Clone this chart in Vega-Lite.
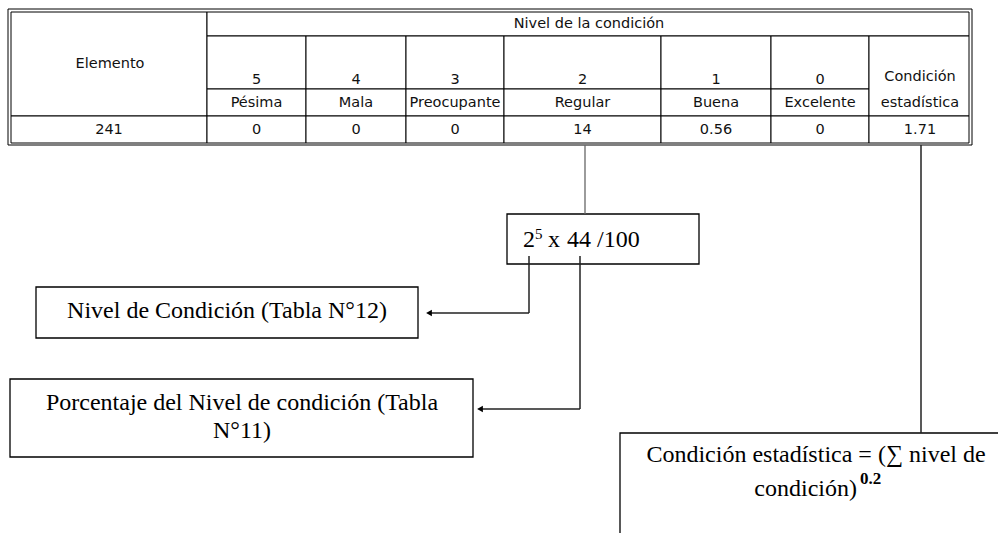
{
  "$schema": "https://vega.github.io/schema/vega-lite/v6.json",
  "width": 998,
  "height": 533,
  "autosize": {"type": "fit", "contains": "padding"},
  "padding": 0,
  "background": "white",
  "config": {"view": {"stroke": null}},
  "datasets": {
    "outer": [{"x": 8, "x2": 972, "y": 9, "y2": 145}],
    "cells": [
      {"x": 11, "x2": 207, "y": 12, "y2": 116},
      {"x": 207, "x2": 969, "y": 12, "y2": 36},
      {"x": 207, "x2": 306, "y": 36, "y2": 89},
      {"x": 306, "x2": 406, "y": 36, "y2": 89},
      {"x": 406, "x2": 504, "y": 36, "y2": 89},
      {"x": 504, "x2": 661, "y": 36, "y2": 89},
      {"x": 661, "x2": 771, "y": 36, "y2": 89},
      {"x": 771, "x2": 869, "y": 36, "y2": 89},
      {"x": 207, "x2": 306, "y": 89, "y2": 116},
      {"x": 306, "x2": 406, "y": 89, "y2": 116},
      {"x": 406, "x2": 504, "y": 89, "y2": 116},
      {"x": 504, "x2": 661, "y": 89, "y2": 116},
      {"x": 661, "x2": 771, "y": 89, "y2": 116},
      {"x": 771, "x2": 869, "y": 89, "y2": 116},
      {"x": 869, "x2": 969, "y": 36, "y2": 116},
      {"x": 11, "x2": 207, "y": 116, "y2": 143},
      {"x": 207, "x2": 306, "y": 116, "y2": 143},
      {"x": 306, "x2": 406, "y": 116, "y2": 143},
      {"x": 406, "x2": 504, "y": 116, "y2": 143},
      {"x": 504, "x2": 661, "y": 116, "y2": 143},
      {"x": 661, "x2": 771, "y": 116, "y2": 143},
      {"x": 771, "x2": 869, "y": 116, "y2": 143},
      {"x": 869, "x2": 969, "y": 116, "y2": 143}
    ],
    "boxes": [
      {"x": 507, "x2": 699, "y": 214, "y2": 264},
      {"x": 36, "x2": 418, "y": 287, "y2": 338},
      {"x": 10, "x2": 473, "y": 379, "y2": 457},
      {"x": 620, "x2": 1012, "y": 433, "y2": 590}
    ],
    "linksGray": [
      {"x": 585, "y": 145, "x2": 585, "y2": 214}
    ],
    "links": [
      {"x": 529, "y": 256, "x2": 529, "y2": 313},
      {"x": 529, "y": 313, "x2": 428, "y2": 313},
      {"x": 580, "y": 256, "x2": 580, "y2": 409},
      {"x": 580, "y": 409, "x2": 479, "y2": 409},
      {"x": 921, "y": 145, "x2": 921, "y2": 433}
    ],
    "arrows": [
      {"x": 429, "y": 313},
      {"x": 480, "y": 409}
    ],
    "tableText": [
      {"x": 110, "y": 64, "label": "Elemento"},
      {"x": 589, "y": 24, "label": "Nivel de la condición"},
      {"x": 256.5, "y": 80, "label": "5"},
      {"x": 356, "y": 80, "label": "4"},
      {"x": 455, "y": 80, "label": "3"},
      {"x": 582.5, "y": 80, "label": "2"},
      {"x": 716, "y": 80, "label": "1"},
      {"x": 820, "y": 80, "label": "0"},
      {"x": 920, "y": 77, "label": "Condición"},
      {"x": 256.5, "y": 103, "label": "Pésima"},
      {"x": 356, "y": 103, "label": "Mala"},
      {"x": 455, "y": 103, "label": "Preocupante"},
      {"x": 582.5, "y": 103, "label": "Regular"},
      {"x": 716, "y": 103, "label": "Buena"},
      {"x": 820, "y": 103, "label": "Excelente"},
      {"x": 920, "y": 103, "label": "estadística"},
      {"x": 109, "y": 130, "label": "241"},
      {"x": 256.5, "y": 130, "label": "0"},
      {"x": 356, "y": 130, "label": "0"},
      {"x": 455, "y": 130, "label": "0"},
      {"x": 582.5, "y": 130, "label": "14"},
      {"x": 716, "y": 130, "label": "0.56"},
      {"x": 820, "y": 130, "label": "0"},
      {"x": 920, "y": 130, "label": "1.71"}
    ],
    "serifCenter": [
      {"x": 227, "y": 318, "label": "Nivel de Condición (Tabla N°12)"},
      {"x": 242, "y": 410, "label": "Porcentaje del Nivel de condición (Tabla"},
      {"x": 242, "y": 438, "label": "N°11)"},
      {"x": 816, "y": 462, "label": "Condición estadística = (∑ nivel de"}
    ],
    "serifLeft": [
      {"x": 523, "y": 247, "label": "2"},
      {"x": 548, "y": 247, "label": "x"},
      {"x": 567, "y": 247, "label": "44 /100"}
    ],
    "serifRight": [
      {"x": 857, "y": 496, "label": "condición)"}
    ],
    "sup": [
      {"x": 535, "y": 239, "label": "5"}
    ],
    "supBold": [
      {"x": 860, "y": 484, "label": "0.2"}
    ]
  },
  "layer": [
    {
      "data": {"name": "outer"},
      "mark": {"type": "rect", "fill": null, "fillOpacity": 0, "stroke": "#000", "strokeWidth": 1},
      "encoding": {
        "x": {"field": "x", "type": "quantitative", "scale": {"domain": [0, 998], "nice": false, "zero": false}, "axis": null},
        "x2": {"field": "x2"},
        "y": {"field": "y", "type": "quantitative", "scale": {"domain": [0, 533], "reverse": true, "nice": false, "zero": false}, "axis": null},
        "y2": {"field": "y2"}
      }
    },
    {
      "data": {"name": "cells"},
      "mark": {"type": "rect", "fill": "white", "stroke": "#000", "strokeWidth": 1},
      "encoding": {
        "x": {"field": "x", "type": "quantitative", "axis": null},
        "x2": {"field": "x2"},
        "y": {"field": "y", "type": "quantitative", "axis": null},
        "y2": {"field": "y2"}
      }
    },
    {
      "data": {"name": "boxes"},
      "mark": {"type": "rect", "fill": "white", "stroke": "#000", "strokeWidth": 1.3, "clip": true},
      "encoding": {
        "x": {"field": "x", "type": "quantitative", "axis": null},
        "x2": {"field": "x2"},
        "y": {"field": "y", "type": "quantitative", "axis": null},
        "y2": {"field": "y2"}
      }
    },
    {
      "data": {"name": "linksGray"},
      "mark": {"type": "rule", "stroke": "#666", "strokeWidth": 1.3},
      "encoding": {
        "x": {"field": "x", "type": "quantitative", "axis": null},
        "x2": {"field": "x2"},
        "y": {"field": "y", "type": "quantitative", "axis": null},
        "y2": {"field": "y2"}
      }
    },
    {
      "data": {"name": "links"},
      "mark": {"type": "rule", "stroke": "#222", "strokeWidth": 1.5},
      "encoding": {
        "x": {"field": "x", "type": "quantitative", "axis": null},
        "x2": {"field": "x2"},
        "y": {"field": "y", "type": "quantitative", "axis": null},
        "y2": {"field": "y2"}
      }
    },
    {
      "data": {"name": "arrows"},
      "mark": {"type": "point", "shape": "triangle-left", "filled": true, "fill": "#000", "stroke": null, "size": 45, "opacity": 1},
      "encoding": {
        "x": {"field": "x", "type": "quantitative", "axis": null},
        "y": {"field": "y", "type": "quantitative", "axis": null}
      }
    },
    {
      "data": {"name": "tableText"},
      "mark": {"type": "text", "font": "DejaVu Sans", "fontSize": 14.5, "align": "center", "baseline": "middle", "color": "#111"},
      "encoding": {
        "x": {"field": "x", "type": "quantitative", "axis": null},
        "y": {"field": "y", "type": "quantitative", "axis": null},
        "text": {"field": "label"}
      }
    },
    {
      "data": {"name": "serifCenter"},
      "mark": {"type": "text", "font": "Liberation Serif", "fontSize": 24, "align": "center", "baseline": "alphabetic", "color": "#000"},
      "encoding": {
        "x": {"field": "x", "type": "quantitative", "axis": null},
        "y": {"field": "y", "type": "quantitative", "axis": null},
        "text": {"field": "label"}
      }
    },
    {
      "data": {"name": "serifLeft"},
      "mark": {"type": "text", "font": "Liberation Serif", "fontSize": 24, "align": "left", "baseline": "alphabetic", "color": "#000"},
      "encoding": {
        "x": {"field": "x", "type": "quantitative", "axis": null},
        "y": {"field": "y", "type": "quantitative", "axis": null},
        "text": {"field": "label"}
      }
    },
    {
      "data": {"name": "serifRight"},
      "mark": {"type": "text", "font": "Liberation Serif", "fontSize": 24, "align": "right", "baseline": "alphabetic", "color": "#000"},
      "encoding": {
        "x": {"field": "x", "type": "quantitative", "axis": null},
        "y": {"field": "y", "type": "quantitative", "axis": null},
        "text": {"field": "label"}
      }
    },
    {
      "data": {"name": "sup"},
      "mark": {"type": "text", "font": "Liberation Serif", "fontSize": 15, "align": "left", "baseline": "alphabetic", "color": "#000"},
      "encoding": {
        "x": {"field": "x", "type": "quantitative", "axis": null},
        "y": {"field": "y", "type": "quantitative", "axis": null},
        "text": {"field": "label"}
      }
    },
    {
      "data": {"name": "supBold"},
      "mark": {"type": "text", "font": "Liberation Serif", "fontSize": 17, "fontWeight": "bold", "align": "left", "baseline": "alphabetic", "color": "#000"},
      "encoding": {
        "x": {"field": "x", "type": "quantitative", "axis": null},
        "y": {"field": "y", "type": "quantitative", "axis": null},
        "text": {"field": "label"}
      }
    }
  ]
}
